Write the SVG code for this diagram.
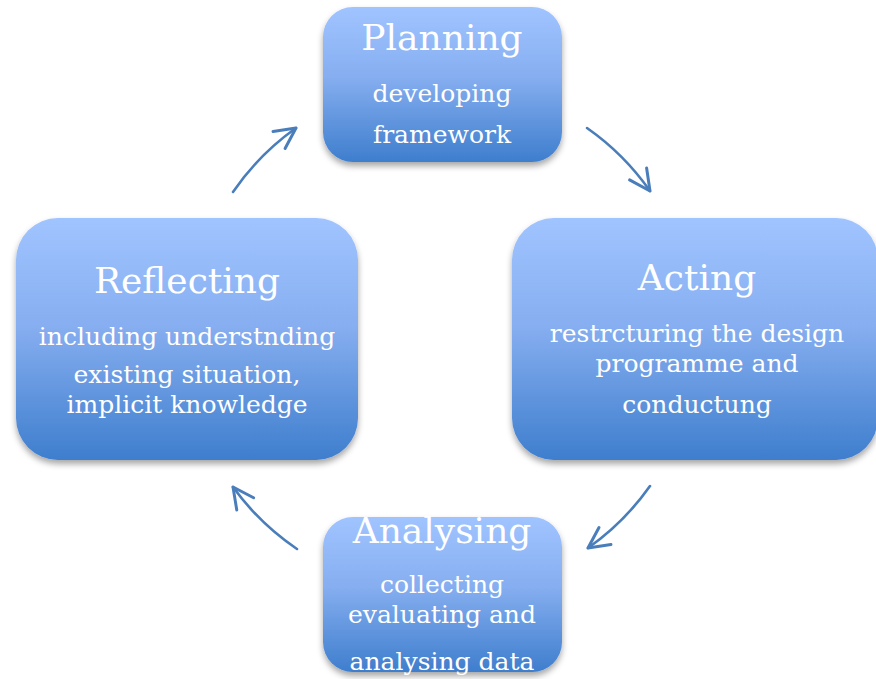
<svg xmlns="http://www.w3.org/2000/svg" width="876" height="679" viewBox="0 0 876 679">
<defs>
<linearGradient id="g" x1="0" y1="0" x2="0" y2="1">
<stop offset="0" stop-color="#a0c4ff"/>
<stop offset="0.45" stop-color="#86aef0"/>
<stop offset="1" stop-color="#3e7ecd"/>
</linearGradient>
<filter id="sh" x="-10%" y="-10%" width="120%" height="130%">
<feDropShadow dx="0" dy="4" stdDeviation="3" flood-color="#000" flood-opacity="0.35"/>
</filter>
<marker id="ah" markerUnits="userSpaceOnUse" markerWidth="30" markerHeight="30" viewBox="-22 -12 26 24" refX="0" refY="0" orient="auto">
<path d="M-18,-9 L0,0 L-18,9" fill="none" stroke="#4a7ebb" stroke-width="2.6" stroke-linecap="round" stroke-linejoin="round"/>
</marker>
<style>
.box{fill:url(#g);filter:url(#sh)}
.t{font-family:"DejaVu Serif","Liberation Serif",serif;fill:#fff;text-anchor:middle}
.h{font-size:36px}
.b{font-size:25px}
.c{fill:none;stroke:#4a7ebb;stroke-width:2.6;stroke-linecap:round;marker-end:url(#ah)}
</style>
</defs>
<rect width="876" height="679" fill="#fff"/>
<g id="connectors">
<path class="c" d="M233,192 A256,256 0 0 1 296,128"/>
<path class="c" d="M587,128 A256,256 0 0 1 650,191"/>
<path class="c" d="M650,486 A256,256 0 0 1 588,548"/>
<path class="c" d="M297,549 A256,256 0 0 1 233,487"/>
</g>
<g id="planning">
<rect class="box" x="323" y="7" width="239" height="155" rx="30"/>
<text class="t h" x="442" y="50">Planning</text>
<text class="t b" x="442" y="102">developing</text>
<text class="t b" x="442" y="143">framework</text>
</g>
<g id="acting">
<rect class="box" x="512" y="218" width="366" height="242" rx="42"/>
<text class="t h" x="697" y="290">Acting</text>
<text class="t b" x="697" y="342">restrcturing the design</text>
<text class="t b" x="697" y="372">programme and</text>
<text class="t b" x="697" y="413">conductung</text>
</g>
<g id="reflecting">
<rect class="box" x="16" y="218" width="342" height="242" rx="42"/>
<text class="t h" x="187" y="293">Reflecting</text>
<text class="t b" x="187" y="345">including understnding</text>
<text class="t b" x="187" y="383">existing situation,</text>
<text class="t b" x="187" y="413">implicit knowledge</text>
</g>
<g id="analysing">
<rect class="box" x="323" y="517" width="239" height="155" rx="30"/>
<text class="t h" x="442" y="543">Analysing</text>
<text class="t b" x="442" y="593">collecting</text>
<text class="t b" x="442" y="623">evaluating and</text>
<text class="t b" x="442" y="670">analysing data</text>
</g>
</svg>
